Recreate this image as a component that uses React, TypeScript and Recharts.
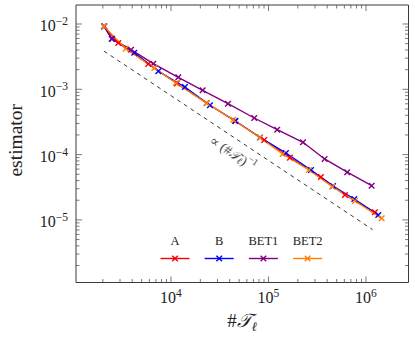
import React from 'react';
import {
  ComposedChart,
  Line,
  XAxis,
  YAxis,
  Legend,
  Label,
  ReferenceLine,
  ReferenceDot,
} from 'recharts';

// series
const seriesNames = ['A', 'B', 'BET1', 'BET2'];
const seriesColors = ['#ff0000', '#0000ff', '#800080', '#ff8000'];

const aX = [2060, 2880, 5850, 11500, 23200, 45300, 90500, 166000, 345000, 609000, 1236000];
const aY = [9.2e-3, 5.12e-3, 2.44e-3, 1.23e-3, 6.16e-4, 3.27e-4, 1.675e-4, 8.98e-5, 4.54e-5, 2.41e-5, 1.31e-5];

const bX = [2060, 2485, 4200, 7410, 13900, 25100, 45900, 81800, 151000, 273000, 459000, 759000, 1337000];
const bY = [9.2e-3, 5.89e-3, 3.635e-3, 1.89e-3, 1.084e-3, 5.69e-4, 3.27e-4, 1.83e-4, 1.058e-4, 5.81e-5, 3.3e-5, 2.09e-5, 1.19e-5];

const bet1X = [2060, 2466, 3890, 6585, 11880, 21130, 38420, 71440, 122800, 225900, 376500, 641200, 1143000];
const bet1Y = [9.2e-3, 5.96e-3, 4.04e-3, 2.466e-3, 1.527e-3, 9.66e-4, 6.02e-4, 3.635e-4, 2.404e-4, 1.543e-4, 8.57e-5, 5.375e-5, 3.34e-5];

const bet2X = [2060, 3430, 6745, 11250, 23240, 43550, 81800, 139800, 260000, 451000, 771000, 1449000];
const bet2Y = [9.2e-3, 4.19e-3, 2.12e-3, 1.249e-3, 6.16e-4, 3.42e-4, 1.817e-4, 1.021e-4, 5.81e-5, 3.225e-5, 1.948e-5, 1.058e-5];

// dashed slope -1 guide and its label anchor
const guideX = [2050, 1170000];
const guideY = [3.85e-3, 7.1e-6];
const guideLabelX = 43300;
const guideLabelY = 1.06e-4;

// axes
const xDomain = [1061, 2730000];
const yDomain = [1.1e-6, 1.954e-2];
const xMajor = [1e4, 1e5, 1e6];
const xTicks = [
  2e3, 3e3, 4e3, 5e3, 6e3, 7e3, 8e3, 9e3, 1e4,
  2e4, 3e4, 4e4, 5e4, 6e4, 7e4, 8e4, 9e4, 1e5,
  2e5, 3e5, 4e5, 5e5, 6e5, 7e5, 8e5, 9e5, 1e6,
];
const yMajor = [1e-5, 1e-4, 1e-3, 1e-2];
const yTicks = [
  2e-6, 3e-6, 4e-6, 5e-6, 6e-6, 7e-6, 8e-6, 9e-6, 1e-5,
  2e-5, 3e-5, 4e-5, 5e-5, 6e-5, 7e-5, 8e-5, 9e-5, 1e-4,
  2e-4, 3e-4, 4e-4, 5e-4, 6e-4, 7e-4, 8e-4, 9e-4, 1e-3,
  2e-3, 3e-3, 4e-3, 5e-3, 6e-3, 7e-3, 8e-3, 9e-3, 1e-2,
];

const seriesX = [aX, bX, bet1X, bet2X];
const seriesY = [aY, bY, bet1Y, bet2Y];
const series = seriesNames.map((name, i) => ({
  name,
  color: seriesColors[i],
  data: seriesX[i].map((x, j) => ({ x, y: seriesY[i][j] })),
}));

const FONT = '"Liberation Serif", "DejaVu Serif", serif';
const TICK = '#555';
const FRAME = '#3a3a3a';

const isMajor = (list: number[], v: number) => list.some((m) => Math.abs(m - v) / m < 1e-6);
const expOf = (v: number) => {
  const e = Math.round(Math.log10(v));
  return e < 0 ? `\u2212${-e}` : `${e}`;
};

function Cross({ cx, cy, color }: any) {
  if (cx == null || cy == null) return null;
  const s = 2.8;
  return (
    <g stroke={color} strokeWidth={1.4}>
      <line x1={cx - s} y1={cy - s} x2={cx + s} y2={cy + s} />
      <line x1={cx - s} y1={cy + s} x2={cx + s} y2={cy - s} />
    </g>
  );
}

function BottomTick({ x, y, payload }: any) {
  const major = isMajor(xMajor, payload.value);
  return (
    <g>
      <line x1={x} x2={x} y1={y} y2={y - (major ? 6 : 3.5)} stroke={TICK} strokeWidth={0.8} />
      {major && (
        <text x={x} y={y + 20} textAnchor="middle" fontFamily={FONT} fontSize={16} fill="#222">
          <tspan>10</tspan>
          <tspan dy={-6} fontSize={11.5}>{expOf(payload.value)}</tspan>
        </text>
      )}
    </g>
  );
}

function TopTick({ x, y, payload }: any) {
  const major = isMajor(xMajor, payload.value);
  return <line x1={x} x2={x} y1={y} y2={y + (major ? 6 : 3.5)} stroke={TICK} strokeWidth={0.8} />;
}

function LeftTick({ x, y, payload }: any) {
  const major = isMajor(yMajor, payload.value);
  return (
    <g>
      <line x1={x} x2={x + (major ? 6 : 3.5)} y1={y} y2={y} stroke={TICK} strokeWidth={0.8} />
      {major && (
        <text x={x - 8} y={y + 7.5} textAnchor="end" fontFamily={FONT} fontSize={16} fill="#222">
          <tspan>10</tspan>
          <tspan dy={-6.5} fontSize={11.5}>{expOf(payload.value)}</tspan>
        </text>
      )}
    </g>
  );
}

function RightTick({ x, y, payload }: any) {
  const major = isMajor(yMajor, payload.value);
  return <line x1={x} x2={x - (major ? 6 : 3.5)} y1={y} y2={y} stroke={TICK} strokeWidth={0.8} />;
}

function XTitle({ viewBox }: any) {
  const cx = viewBox.x + viewBox.width / 2;
  return (
    <text x={cx} y={viewBox.y + 44.5} textAnchor="middle" fontFamily={FONT} fontSize={19} fill="#222">
      <tspan>#</tspan>
      <tspan fontStyle="italic">{'\u{1D4AF}'}</tspan>
      <tspan dy={4} fontSize={13} fontStyle="italic">{'\u2113'}</tspan>
    </text>
  );
}

function YTitle({ viewBox }: any) {
  const cy = viewBox.y + viewBox.height / 2 - 3.5;
  return (
    <text
      x={22}
      y={cy}
      transform={`rotate(-90, 22, ${cy})`}
      textAnchor="middle"
      fontFamily={FONT}
      fontSize={19.5}
      fill="#222"
    >
      estimator
    </text>
  );
}

function GuideLabel({ cx, cy }: any) {
  if (cx == null) return null;
  return (
    <text
      x={cx}
      y={cy}
      transform={`rotate(33.5, ${cx}, ${cy})`}
      textAnchor="middle"
      dominantBaseline="central"
      fontFamily={FONT}
      fontSize={13.5}
      fill="#444"
    >
      <tspan>{'\u221D'}  (#</tspan>
      <tspan fontStyle="italic">{'\u{1D4AF}'}</tspan>
      <tspan dy={3} fontSize={9.5} fontStyle="italic">{'\u2113'}</tspan>
      <tspan dy={-3}>)</tspan>
      <tspan dy={-4.5} fontSize={9.5}>{'\u22121'}</tspan>
    </text>
  );
}

function LegendBox({ payload }: any) {
  const items = (payload && payload.length ? payload : series).map((p: any, i: number) => ({
    name: p.value ?? p.name,
    color: p.color ?? series[i].color,
  }));
  return (
    <svg width={180} height={36} style={{ display: 'block' }}>
      {items.map((it: any, i: number) => {
        const cx = 22 + i * 44.2;
        return (
          <g key={it.name}>
            <text x={cx} y={13} textAnchor="middle" fontFamily={FONT} fontSize={12.5} fill="#222">
              {it.name}
            </text>
            <line x1={cx - 14.5} x2={cx + 14.5} y1={26.5} y2={26.5} stroke={it.color} strokeWidth={1.4} />
            <Cross cx={cx} cy={26.5} color={it.color} />
          </g>
        );
      })}
    </svg>
  );
}

export default function App() {
  return (
    <div style={{ position: 'absolute', left: 0, top: 0, width: 415, height: 340, background: '#fff' }}>
      <ComposedChart width={415} height={340} margin={{ top: 0, right: 0, bottom: 0, left: 0 }}>
        <XAxis
          dataKey="x"
          type="number"
          scale="log"
          domain={xDomain}
          allowDataOverflow
          ticks={xTicks}
          interval={0}
          height={57.5}
          tickSize={0}
          tickMargin={0}
          tickLine={false}
          tick={<BottomTick />}
          axisLine={{ stroke: FRAME, strokeWidth: 1 }}
        >
          <Label content={<XTitle />} />
        </XAxis>
        <XAxis
          xAxisId="top"
          orientation="top"
          dataKey="x"
          type="number"
          scale="log"
          domain={xDomain}
          allowDataOverflow
          ticks={xTicks}
          interval={0}
          height={5}
          tickSize={0}
          tickMargin={0}
          tickLine={false}
          tick={<TopTick />}
          axisLine={{ stroke: FRAME, strokeWidth: 1 }}
        />
        <YAxis
          dataKey="y"
          type="number"
          scale="log"
          domain={yDomain}
          allowDataOverflow
          ticks={yTicks}
          interval={0}
          width={76}
          tickSize={0}
          tickMargin={0}
          tickLine={false}
          tick={<LeftTick />}
          axisLine={{ stroke: FRAME, strokeWidth: 1 }}
        >
          <Label content={<YTitle />} />
        </YAxis>
        <YAxis
          yAxisId="right"
          orientation="right"
          dataKey="y"
          type="number"
          scale="log"
          domain={yDomain}
          allowDataOverflow
          ticks={yTicks}
          interval={0}
          width={6.5}
          tickSize={0}
          tickMargin={0}
          tickLine={false}
          tick={<RightTick />}
          axisLine={{ stroke: FRAME, strokeWidth: 1 }}
        />
        <ReferenceLine
          segment={[
            { x: guideX[0], y: guideY[0] },
            { x: guideX[1], y: guideY[1] },
          ]}
          stroke="#222"
          strokeWidth={0.9}
          strokeDasharray="4 4"
        />
        <ReferenceDot x={guideLabelX} y={guideLabelY} r={0} shape={(p: any) => <GuideLabel {...p} />} />
        {series.map((s) => (
          <Line
            key={s.name}
            name={s.name}
            data={s.data}
            dataKey="y"
            type="linear"
            stroke={s.color}
            strokeWidth={1.4}
            dot={(p: any) => <Cross key={p.index} cx={p.cx} cy={p.cy} color={s.color} />}
            activeDot={false}
            isAnimationActive={false}
          />
        ))}
        <Legend
          layout="horizontal"
          verticalAlign="middle"
          align="center"
          content={<LegendBox />}
          wrapperStyle={{ left: 153, top: 232, width: 180, height: 36 }}
        />
      </ComposedChart>
    </div>
  );
}
